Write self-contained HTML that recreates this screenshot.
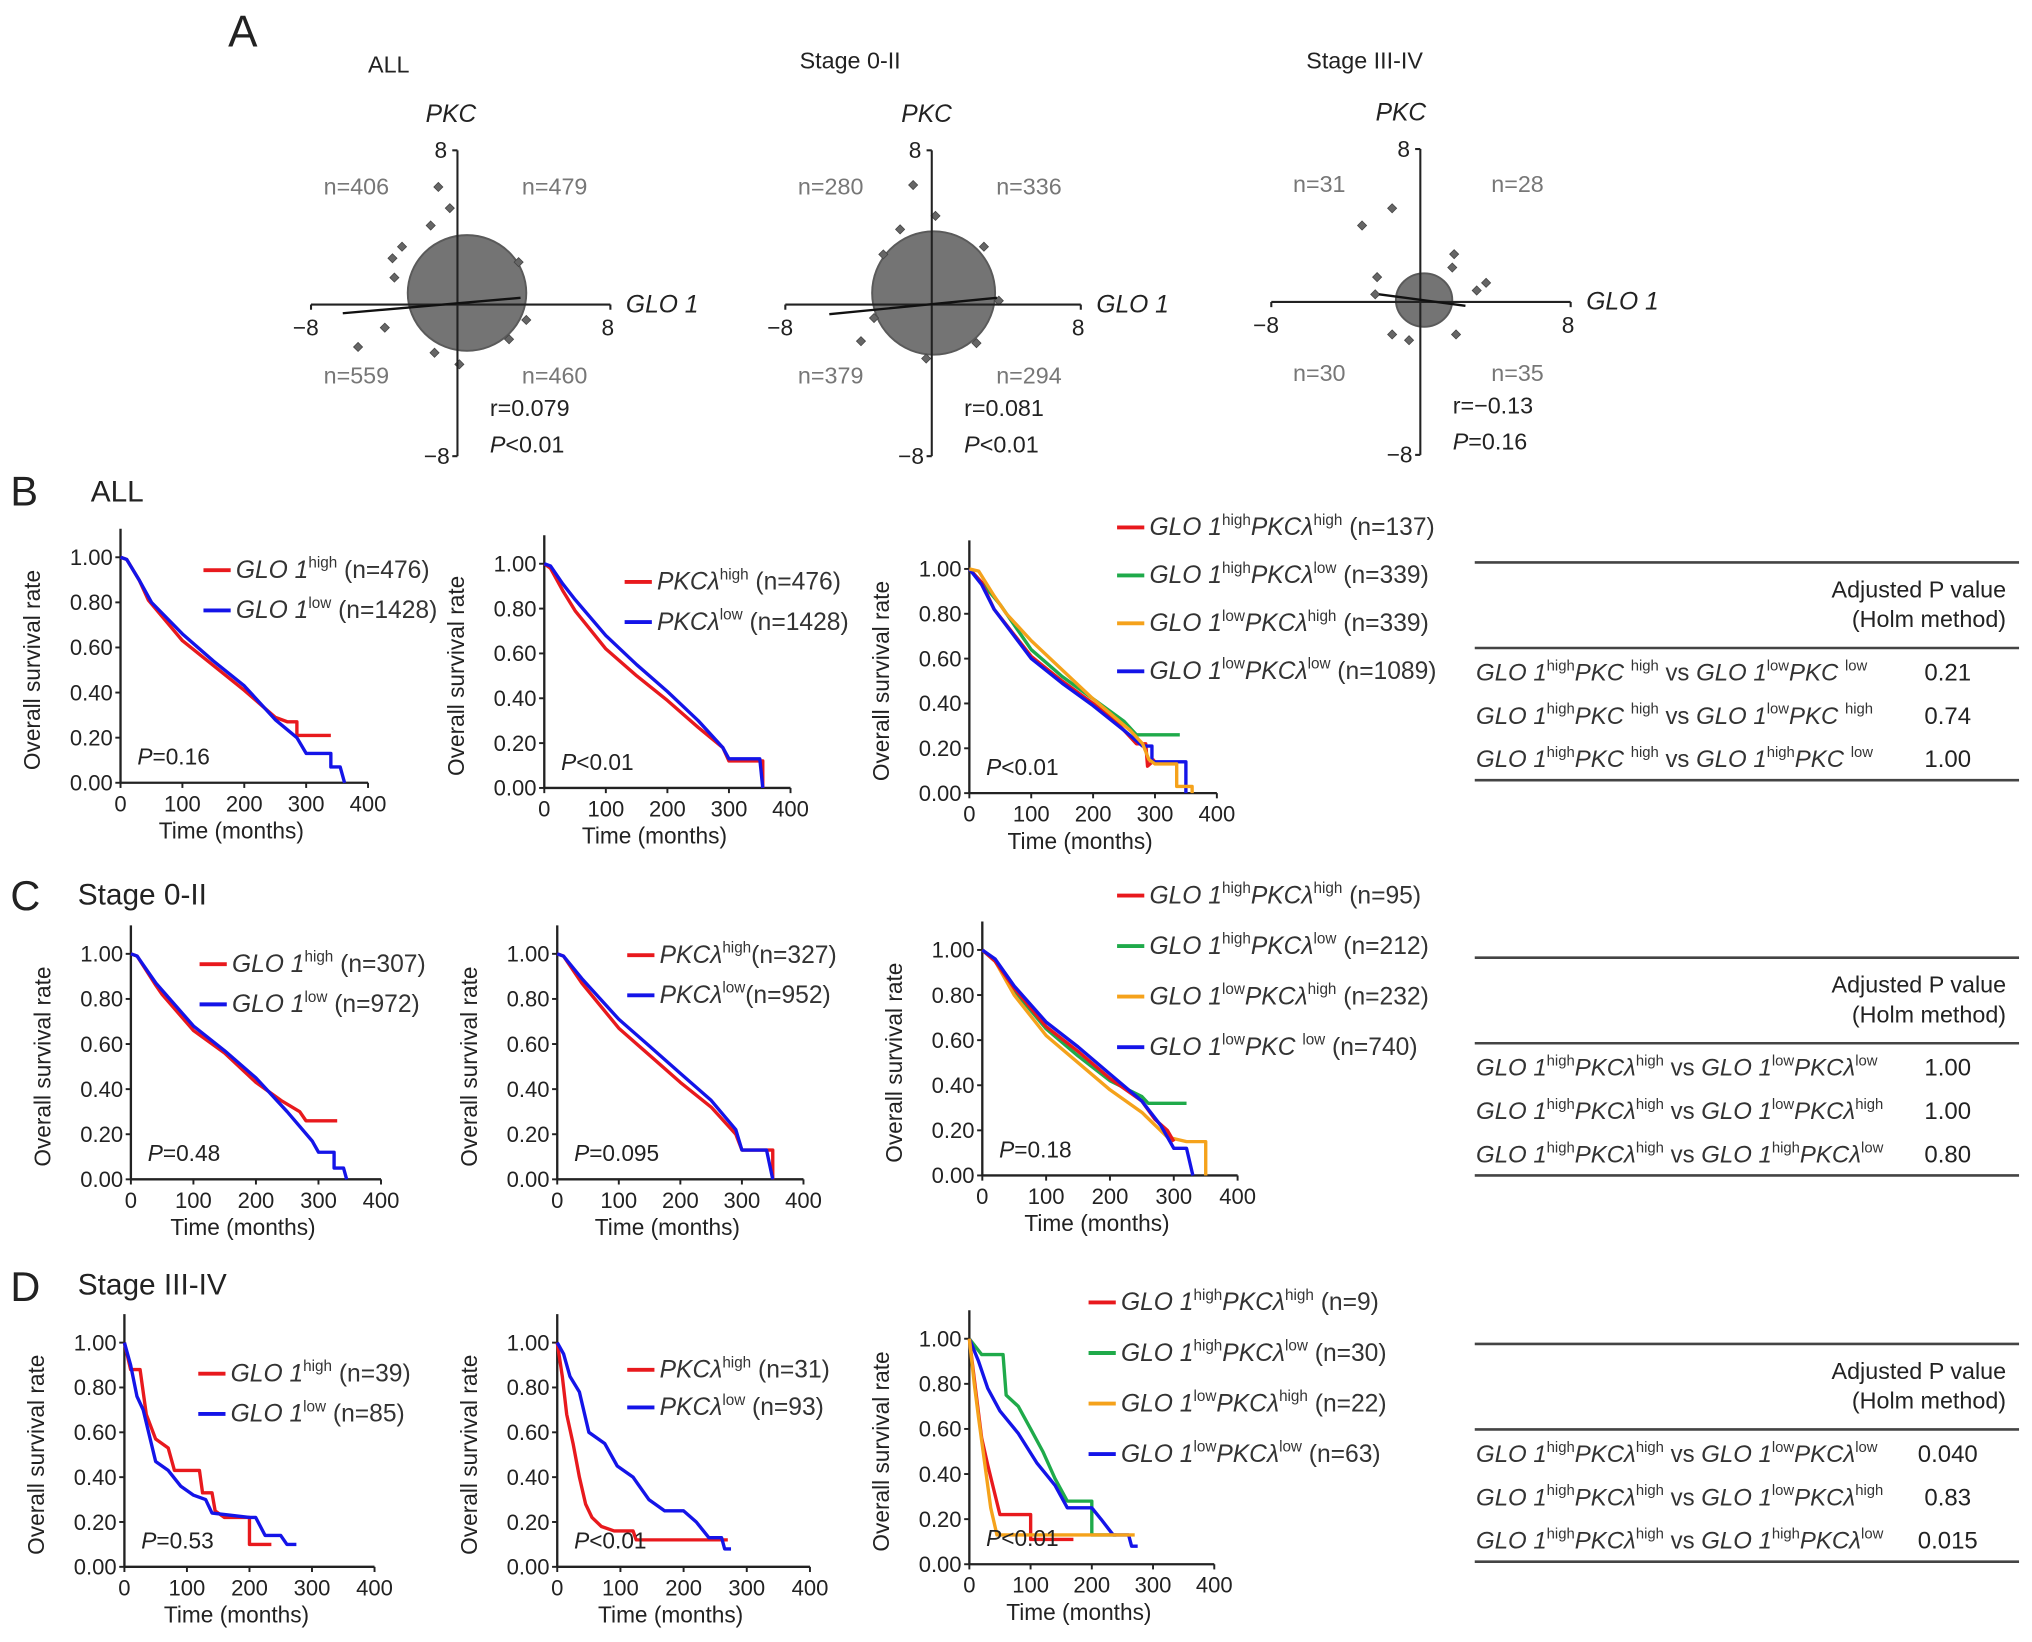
<!DOCTYPE html>
<html><head><meta charset="utf-8"><style>
html,body{margin:0;padding:0;background:#fff;}
svg{display:block;font-family:"Liberation Sans",Arial,sans-serif;}
</style></head><body>
<svg id="fig" width="2032" height="1642" viewBox="0 0 1568 1267" preserveAspectRatio="none" xmlns="http://www.w3.org/2000/svg">
<rect width="1568" height="1267" fill="#fff"/>
<g id="labels" fill="#222">
<text x="176" y="36" font-size="34">A</text>
<text x="8" y="390" font-size="32">B</text>
<text x="70" y="387" font-size="23">ALL</text>
<text x="8" y="702" font-size="32">C</text>
<text x="60" y="698" font-size="23">Stage 0-II</text>
<text x="8" y="1004" font-size="32">D</text>
<text x="60" y="999" font-size="23">Stage III-IV</text>
</g>
<g id="scatters"></g>
<g id="kms"></g>
<g id="tables"></g>
</svg>
<script>
const NS="http://www.w3.org/2000/svg";
const fig=document.getElementById('fig');
function el(tag,attrs,parent){const e=document.createElementNS(NS,tag);for(const k in attrs)e.setAttribute(k,attrs[k]);(parent||fig).appendChild(e);return e;}
function rich(parent,x,y,str,size,fill,anchor){
  const t=el('text',{x:x,y:y,'font-size':size,fill:fill||'#333','text-anchor':anchor||'start'},parent);
  const re=/\{([ins]):([^}]*)\}/g;let m;let sup=false;
  while((m=re.exec(str))){
    const ts=el('tspan',{},t);ts.textContent=m[2];
    if(m[1]==='i')ts.setAttribute('font-style','italic');
    if(m[1]==='s'){ts.setAttribute('font-size',size*0.62);ts.setAttribute('dy',-size*0.42);sup=true;}
    else if(sup){ts.setAttribute('dy',size*0.42);sup=false;}
  }
  return t;
}

/* ---------------- Scatter data (units -8..8) ---------------- */
const scTitles=["ALL","Stage 0-II","Stage III-IV"];
const scN=[["n=406","n=479","n=559","n=460"],["n=280","n=336","n=379","n=294"],["n=31","n=28","n=30","n=35"]];
const scR=["r=0.079","r=0.081","r=\u22120.13"];
const scP=["{i:P}{n:<0.01}","{i:P}{n:<0.01}","{i:P}{n:=0.16}"];
const scBlob=[[0.5,0.6,3.1,3.0],[0.1,0.6,3.3,3.2],[0.2,0.1,1.5,1.4]];
const scOut1=[[-1.0,6.1],[-0.4,5.0],[-1.4,4.1],[-2.9,3.0],[-5.2,-2.2],[0.1,-3.1],[-1.2,-2.5],[-3.4,2.4],[-3.3,1.4],[3.6,-0.8],[3.2,2.2],[-3.8,-1.2],[2.7,-1.8]];
const scOut2=[[-1.0,6.2],[0.2,4.6],[-1.7,3.9],[-3.8,-1.9],[-2.6,2.6],[2.8,3.0],[3.6,0.2],[-0.3,-2.8],[-3.1,-0.7],[2.4,-2.0]];
const scOut3=[[-1.5,4.9],[-3.1,4.0],[1.8,2.5],[-2.3,1.3],[1.7,1.8],[3.0,0.6],[3.5,1.0],[1.9,-1.7],[-0.6,-2.0],[-1.5,-1.7],[-2.4,0.4]];
const scOuts=[scOut1,scOut2,scOut3];
const scFit=[[[-6,-0.45],[3.3,0.35]],[[-5.5,-0.5],[3.5,0.35]],[[-2.2,0.4],[2.4,-0.2]]];
const scGeo=[{cx:353,cy:235,x0:240,x1:471,y0:116,y1:352,tx:300,ty:56,pkc:348},
             {cx:719,cy:235,x0:606,x1:834,y0:116,y1:352,tx:656,ty:53,pkc:715},
             {cx:1096,cy:233,x0:981,x1:1212,y0:115,y1:351,tx:1053,ty:53,pkc:1081}];
(function(){
 const G=document.getElementById('scatters');
 scGeo.forEach((g,i)=>{
  const gg=el('g',{},G);
  
  
  const sx=u=>g.cx+u*(g.x1-g.cx)/8, sy=u=>g.cy-u*(g.cy-g.y0)/8;
  const t=el('text',{x:g.tx,y:g.ty,'font-size':18,'text-anchor':'middle',fill:'#222'},gg);t.textContent=scTitles[i];
  
  const pk=el('text',{x:g.pkc,y:g.y0-22,'font-size':19,'font-style':'italic','text-anchor':'middle',fill:'#222'},gg);pk.textContent='PKC';
  const b=scBlob[i];
  const bl=el('ellipse',{cx:sx(b[0]),cy:sy(b[1]),rx:b[2]*(g.x1-g.cx)/8,ry:b[3]*(g.cy-g.y0)/8,fill:'#747474',stroke:'#5a5a5a','stroke-width':1.5},gg);
  
  scOuts[i].forEach(p=>{const x=sx(p[0]),y=sy(p[1]);
    const d=el('path',{d:`M${x} ${y-3.5}L${x+3.5} ${y}L${x} ${y+3.5}L${x-3.5} ${y}Z`,fill:'#666',stroke:'#444','stroke-width':0.6},gg);
    });
  el('line',{x1:g.x0,y1:g.cy,x2:g.x1,y2:g.cy,stroke:'#222','stroke-width':1.6},gg);
  el('line',{x1:g.cx,y1:g.y0,x2:g.cx,y2:g.y1,stroke:'#222','stroke-width':1.6},gg);
  el('line',{x1:g.x0,y1:g.cy,x2:g.x0,y2:g.cy+4,stroke:'#222','stroke-width':1.6},gg);
  el('line',{x1:g.x1,y1:g.cy,x2:g.x1,y2:g.cy+4,stroke:'#222','stroke-width':1.6},gg);
  el('line',{x1:g.cx,y1:g.y0,x2:g.cx-4,y2:g.y0,stroke:'#222','stroke-width':1.6},gg);
  el('line',{x1:g.cx,y1:g.y1,x2:g.cx-4,y2:g.y1,stroke:'#222','stroke-width':1.6},gg);
  const f=scFit[i];
  el('line',{x1:sx(f[0][0]),y1:sy(f[0][1]),x2:sx(f[1][0]),y2:sy(f[1][1]),stroke:'#111','stroke-width':1.8},gg);
  const tk=(x,y,s,a)=>{const e=el('text',{x:x,y:y,'font-size':17.5,'text-anchor':a||'middle',fill:'#222'},gg);e.textContent=s;};
  tk(g.x0-4,g.cy+24,'\u22128');tk(g.x1-2,g.cy+24,'8');tk(g.cx-8,g.y0+6,'8','end');tk(g.cx-6,g.y1+6,'\u22128','end');
  const gl=el('text',{x:g.x1+12,y:g.cy+6,'font-size':19,'font-style':'italic',fill:'#222'},gg);gl.textContent='GLO 1';
  const n=scN[i];const nt=(x,y,s)=>{const e=el('text',{x:x,y:y,'font-size':18,fill:'#777','text-anchor':'middle'},gg);e.textContent=s;};
  nt(g.cx-78,g.cy-85,n[0]);nt(g.cx+75,g.cy-85,n[1]);nt(g.cx-78,g.cy+61,n[2]);nt(g.cx+75,g.cy+61,n[3]);
  const r=el('text',{x:g.cx+25,y:g.cy+86,'font-size':18,fill:'#222'},gg);r.textContent=scR[i];
  rich(gg,g.cx+25,g.cy+114,scP[i],18,'#222');
 });
})();

/* ---------------- KM data: [months, survival] ---------------- */
const kmB1red=[[0,1],[10,.99],[30,.9],[45,.81],[100,.63],[150,.52],[200,.41],[250,.29],[270,.27],[285,.27],[285,.21],[340,.21]];
const kmB1blue=[[0,1],[10,.99],[30,.9],[50,.8],[100,.66],[150,.54],[200,.43],[250,.28],[285,.2],[300,.13],[340,.13],[340,.07],[355,.07],[362,0]];
const kmB2red=[[0,1],[10,.98],[30,.88],[50,.79],[100,.62],[150,.5],[200,.39],[250,.27],[290,.18],[300,.12],[355,.12],[355,0]];
const kmB2blue=[[0,1],[10,.99],[30,.91],[50,.84],[100,.68],[150,.55],[200,.43],[250,.3],[290,.18],[300,.13],[350,.13],[355,0]];
const kmB3red=[[0,1],[20,.94],[40,.82],[100,.61],[150,.5],[200,.4],[240,.31],[270,.22],[285,.22],[288,.12],[300,.15]];
const kmB3green=[[0,1],[20,.94],[50,.84],[100,.64],[150,.52],[200,.42],[250,.32],[270,.26],[340,.26]];
const kmB3orange=[[0,1],[15,.99],[40,.88],[60,.8],[100,.68],[150,.55],[200,.42],[260,.28],[280,.22],[290,.15],[300,.13],[335,.13],[335,.03],[360,.03],[360,0]];
const kmB3blue=[[0,1],[20,.93],[40,.82],[100,.6],[150,.49],[200,.39],[250,.28],[280,.21],[295,.21],[295,.14],[350,.14],[350,0]];
const kmC1red=[[0,1],[10,.99],[40,.86],[50,.82],[100,.66],[150,.56],[200,.43],[240,.35],[270,.3],[280,.26],[330,.26]];
const kmC1blue=[[0,1],[10,.99],[40,.87],[100,.68],[150,.57],[200,.45],[250,.3],[290,.17],[300,.12],[325,.12],[325,.05],[340,.05],[345,0]];
const kmC2red=[[0,1],[10,.99],[40,.87],[100,.67],[150,.55],[200,.43],[250,.32],[290,.2],[300,.13],[350,.13],[350,0]];
const kmC2blue=[[0,1],[10,.99],[40,.89],[100,.71],[150,.59],[200,.47],[250,.35],[290,.22],[300,.13],[340,.13],[350,0]];
const kmC3red=[[0,1],[20,.95],[50,.83],[100,.66],[150,.55],[200,.43],[250,.33],[270,.25],[290,.2],[300,.15]];
const kmC3green=[[0,1],[20,.95],[50,.82],[100,.65],[150,.53],[200,.42],[250,.35],[260,.32],[320,.32]];
const kmC3orange=[[0,1],[20,.95],[50,.8],[100,.62],[150,.5],[200,.38],[250,.28],[290,.17],[320,.15],[350,.15],[350,0]];
const kmC3blue=[[0,1],[20,.96],[50,.84],[100,.68],[150,.57],[200,.45],[250,.33],[280,.22],[300,.12],[320,.12],[330,0]];
const kmD1red=[[0,1],[10,.88],[25,.88],[35,.68],[50,.57],[70,.53],[80,.43],[120,.43],[125,.33],[140,.33],[145,.25],[160,.22],[200,.22],[200,.1],[235,.1]];
const kmD1blue=[[0,1],[10,.9],[20,.76],[30,.7],[50,.47],[70,.43],[90,.36],[110,.32],[130,.3],[140,.24],[200,.22],[210,.22],[225,.14],[250,.14],[260,.1],[275,.1]];
const kmD2red=[[0,1],[8,.85],[15,.68],[25,.55],[35,.4],[45,.28],[55,.22],[70,.18],[90,.16],[120,.16],[125,.12],[270,.12]];
const kmD2blue=[[0,1],[10,.95],[20,.85],[35,.78],[50,.6],[75,.55],[95,.45],[120,.4],[145,.3],[170,.25],[200,.25],[220,.2],[240,.13],[260,.13],[265,.08],[275,.08]];
const kmD3red=[[0,1],[10,.78],[20,.56],[30,.44],[40,.33],[50,.22],[100,.22],[100,.11],[170,.11]];
const kmD3green=[[0,1],[20,.93],[55,.93],[60,.75],[80,.7],[100,.6],[120,.5],[140,.38],[160,.28],[200,.28],[200,.13],[240,.13]];
const kmD3orange=[[0,1],[8,.8],[15,.65],[25,.45],[35,.25],[45,.13],[50,.13],[270,.13]];
const kmD3blue=[[0,1],[15,.9],[30,.78],[50,.68],[80,.58],[110,.45],[140,.35],[160,.25],[200,.25],[215,.2],[235,.13],[260,.13],[265,.08],[275,.08]];
const RED='#e8191d',BLUE='#1414e8',GREEN='#1faa4a',ORANGE='#f5a21b';
const kmPanels=[
 {id:'b1',ax:93,top:430,bot:604,x400:284,curves:[[kmB1red,RED],[kmB1blue,BLUE]],p:'{i:P}{n:=0.16}',
  leg:{x:157,y:446,dy:31,items:[[RED,'{i:GLO 1}{s:high}{n: (n=476)}'],[BLUE,'{i:GLO 1}{s:low}{n: (n=1428)}']]}},
 {id:'b2',ax:420,top:435,bot:608,x400:610,curves:[[kmB2red,RED],[kmB2blue,BLUE]],p:'{i:P}{n:<0.01}',
  leg:{x:482,y:455,dy:31,items:[[RED,'{i:PKCλ}{s:high}{n: (n=476)}'],[BLUE,'{i:PKCλ}{s:low}{n: (n=1428)}']]}},
 {id:'b3',ax:748,top:439,bot:612,x400:939,curves:[[kmB3green,GREEN],[kmB3red,RED],[kmB3blue,BLUE],[kmB3orange,ORANGE]],p:'{i:P}{n:<0.01}',
  leg:{x:862,y:413,dy:37,items:[[RED,'{i:GLO 1}{s:high}{i:PKCλ}{s:high}{n: (n=137)}'],[GREEN,'{i:GLO 1}{s:high}{i:PKCλ}{s:low}{n: (n=339)}'],[ORANGE,'{i:GLO 1}{s:low}{i:PKCλ}{s:high}{n: (n=339)}'],[BLUE,'{i:GLO 1}{s:low}{i:PKCλ}{s:low}{n: (n=1089)}']]}},
 {id:'c1',ax:101,top:736,bot:910,x400:294,curves:[[kmC1red,RED],[kmC1blue,BLUE]],p:'{i:P}{n:=0.48}',
  leg:{x:154,y:750,dy:31,items:[[RED,'{i:GLO 1}{s:high}{n: (n=307)}'],[BLUE,'{i:GLO 1}{s:low}{n: (n=972)}']]}},
 {id:'c2',ax:430,top:736,bot:910,x400:620,curves:[[kmC2red,RED],[kmC2blue,BLUE]],p:'{i:P}{n:=0.095}',
  leg:{x:484,y:743,dy:31,items:[[RED,'{i:PKCλ}{s:high}{n:(n=327)}'],[BLUE,'{i:PKCλ}{s:low}{n:(n=952)}']]}},
 {id:'c3',ax:758,top:733,bot:907,x400:955,curves:[[kmC3green,GREEN],[kmC3orange,ORANGE],[kmC3red,RED],[kmC3blue,BLUE]],p:'{i:P}{n:=0.18}',
  leg:{x:862,y:697,dy:39,items:[[RED,'{i:GLO 1}{s:high}{i:PKCλ}{s:high}{n: (n=95)}'],[GREEN,'{i:GLO 1}{s:high}{i:PKCλ}{s:low}{n: (n=212)}'],[ORANGE,'{i:GLO 1}{s:low}{i:PKCλ}{s:high}{n: (n=232)}'],[BLUE,'{i:GLO 1}{s:low}{i:PKC }{s:low}{n: (n=740)}']]}},
 {id:'d1',ax:96,top:1036,bot:1209,x400:289,curves:[[kmD1red,RED],[kmD1blue,BLUE]],p:'{i:P}{n:=0.53}',
  leg:{x:153,y:1066,dy:31,items:[[RED,'{i:GLO 1}{s:high}{n: (n=39)}'],[BLUE,'{i:GLO 1}{s:low}{n: (n=85)}']]}},
 {id:'d2',ax:430,top:1036,bot:1209,x400:625,curves:[[kmD2red,RED],[kmD2blue,BLUE]],p:'{i:P}{n:<0.01}',
  leg:{x:484,y:1063,dy:29,items:[[RED,'{i:PKCλ}{s:high}{n: (n=31)}'],[BLUE,'{i:PKCλ}{s:low}{n: (n=93)}']]}},
 {id:'d3',ax:748,top:1033,bot:1207,x400:937,curves:[[kmD3green,GREEN],[kmD3blue,BLUE],[kmD3red,RED],[kmD3orange,ORANGE]],p:'{i:P}{n:<0.01}',
  leg:{x:840,y:1011,dy:39,items:[[RED,'{i:GLO 1}{s:high}{i:PKCλ}{s:high}{n: (n=9)}'],[GREEN,'{i:GLO 1}{s:high}{i:PKCλ}{s:low}{n: (n=30)}'],[ORANGE,'{i:GLO 1}{s:low}{i:PKCλ}{s:high}{n: (n=22)}'],[BLUE,'{i:GLO 1}{s:low}{i:PKCλ}{s:low}{n: (n=63)}']]}}
];
const yTicks=[0,0.2,0.4,0.6,0.8,1.0];
const yTickLabels=["0.00","0.20","0.40","0.60","0.80","1.00"];
const xTicks=[0,100,200,300,400];
(function(){
 const G=document.getElementById('kms');
 kmPanels.forEach(P=>{
  const g=el('g',{},G);
  
  
  const sx=t=>P.ax+t*(P.x400-P.ax)/400, sy=s=>P.bot-s*(P.bot-P.top);
  el('line',{x1:P.ax,y1:P.top-22,x2:P.ax,y2:P.bot,stroke:'#222','stroke-width':1.8},g);
  el('line',{x1:P.ax,y1:P.bot,x2:P.x400,y2:P.bot,stroke:'#222','stroke-width':1.8},g);
  yTicks.forEach((v,i)=>{el('line',{x1:P.ax-4,y1:sy(v),x2:P.ax,y2:sy(v),stroke:'#222','stroke-width':1.5},g);
   const t=el('text',{x:P.ax-6,y:sy(v)+6,'font-size':17,'text-anchor':'end',fill:'#222'},g);t.textContent=yTickLabels[i];});
  xTicks.forEach(v=>{el('line',{x1:sx(v),y1:P.bot,x2:sx(v),y2:P.bot+4,stroke:'#222','stroke-width':1.5},g);
   const t=el('text',{x:sx(v),y:P.bot+22,'font-size':17,'text-anchor':'middle',fill:'#222'},g);t.textContent=v;});
  const xt=el('text',{x:(P.ax+P.x400)/2-10,y:P.bot+43,'font-size':17.5,'text-anchor':'middle',fill:'#222'},g);xt.textContent='Time (months)';
  
  const yc=(P.top+P.bot)/2, yx=P.ax-62;
  const yt=el('text',{x:yx,y:yc,'font-size':17.5,'text-anchor':'middle',fill:'#222',transform:`rotate(-90 ${yx} ${yc})`},g);yt.textContent='Overall survival rate';
  
  P.curves.forEach(c=>{
   const pts=c[0].map(p=>sx(p[0]).toFixed(1)+','+sy(p[1]).toFixed(1)).join(' ');
   const pl=el('polyline',{points:pts,fill:'none',stroke:c[1],'stroke-width':2.6,'stroke-linejoin':'round'},g);
   
  });
  rich(g,P.ax+13,P.bot-14,P.p,17.5,'#222');
  P.leg.items.forEach((it,i)=>{
   const y=P.leg.y+i*P.leg.dy;
   const lg=el('g',{},g);
   
   el('line',{x1:P.leg.x,y1:y-6,x2:P.leg.x+21,y2:y-6,stroke:it[0],'stroke-width':3},lg);
   rich(lg,P.leg.x+25,y,it[1],19,'#333');
  });
 });
})();

/* ---------------- Tables ---------------- */
const tabRowsB=["{i:GLO 1}{s:high}{i:PKC }{s:high}{n: vs }{i:GLO 1}{s:low}{i:PKC }{s:low}","{i:GLO 1}{s:high}{i:PKC }{s:high}{n: vs }{i:GLO 1}{s:low}{i:PKC }{s:high}","{i:GLO 1}{s:high}{i:PKC }{s:high}{n: vs }{i:GLO 1}{s:high}{i:PKC }{s:low}"];
const tabRowsCD=["{i:GLO 1}{s:high}{i:PKCλ}{s:high}{n: vs }{i:GLO 1}{s:low}{i:PKCλ}{s:low}","{i:GLO 1}{s:high}{i:PKCλ}{s:high}{n: vs }{i:GLO 1}{s:low}{i:PKCλ}{s:high}","{i:GLO 1}{s:high}{i:PKCλ}{s:high}{n: vs }{i:GLO 1}{s:high}{i:PKCλ}{s:low}"];
const tabValsB=["0.21","0.74","1.00"], tabValsC=["1.00","1.00","0.80"], tabValsD=["0.040","0.83","0.015"];
const tabs=[{y:434,rows:tabRowsB,vals:tabValsB},{y:739,rows:tabRowsCD,vals:tabValsC},{y:1037,rows:tabRowsCD,vals:tabValsD}];
(function(){
 const G=document.getElementById('tables');
 tabs.forEach((T,k)=>{
  const g=el('g',{},G);
  
  
  const X0=1138,X1=1558;
  el('line',{x1:X0,y1:T.y,x2:X1,y2:T.y,stroke:'#444','stroke-width':2},g);
  const h1=el('text',{x:1548,y:T.y+27,'font-size':18,'text-anchor':'end',fill:'#222'},g);h1.textContent='Adjusted P value';
  const h2=el('text',{x:1548,y:T.y+50,'font-size':18,'text-anchor':'end',fill:'#222'},g);h2.textContent='(Holm method)';
  el('line',{x1:X0,y1:T.y+66,x2:X1,y2:T.y+66,stroke:'#444','stroke-width':2},g);
  T.rows.forEach((r,i)=>{const y=T.y+91+i*33.5;
   rich(g,1139,y,r,18.5,'#333');
   const v=el('text',{x:1503,y:y,'font-size':18.5,'text-anchor':'middle',fill:'#222'},g);v.textContent=T.vals[i];});
  el('line',{x1:X0,y1:T.y+168,x2:X1,y2:T.y+168,stroke:'#444','stroke-width':2},g);
 });
})();
</script>
</body></html>
